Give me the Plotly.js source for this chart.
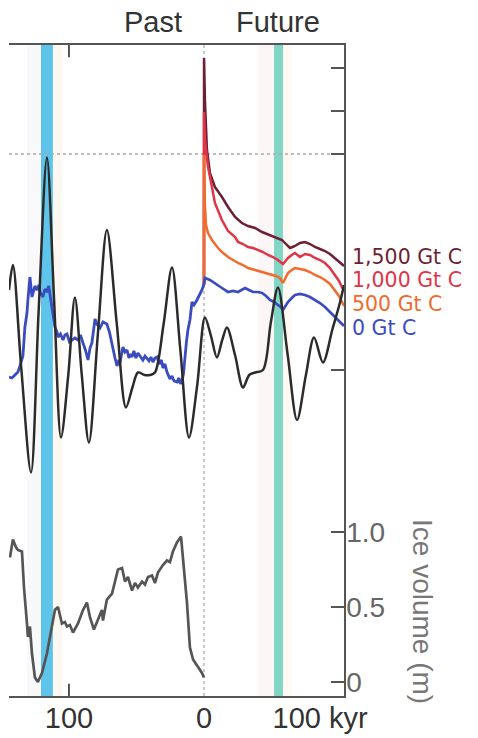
<!DOCTYPE html>
<html><head><meta charset="utf-8">
<script src="https://cdn.plot.ly/plotly-3.0.1.min.js"></script>
<style>html,body{margin:0;padding:0;background:#fff;}#chart{width:478px;height:738px;}</style>
</head><body><div id="chart"></div>
<script>
// ---- Data (time in kyr: negative = past, positive = future) ----
// Summer insolation (W/m2)
const insT = [-144.4,-141.5,-135.5,-128.1,-122.5,-116.3,-111.0,-105.9,-100.5,-95.6,-90.5,-85.2,-78.5,-71.9,-64.5,-57.8,-53.0,-48.9,-44.0,-40.0,-36.3,-30.0,-23.7,-17.5,-11.1,-5.0,0.7,5.0,9.6,13.5,17.0,23.0,28.9,33.5,37.8,43.7,49.5,54.8,62.0,68.9,75.5,81.5,88.1,95.0,100.7,103.7];
const insW = [504,514,474,431,495,557,500,445,470,501,470,443,487,528,490,457,465,471,470,470,471,490,513,480,445,466,493,486,477,484,489,478,465,470,471,472,491,505,478,452,470,485,475,488,499,506];

// Atmospheric CO2, past (ppm)
const co2PastT = [-144.4,-142.2,-140.0,-137.8,-136.3,-134.1,-132.6,-131.1,-130.4,-128.9,-127.4,-126.7,-125.2,-123.7,-122.2,-121.5,-119.3,-117.8,-116.3,-115.0,-114.1,-112.6,-111.5,-110.4,-108.9,-108.1,-106.3,-104.4,-103.0,-101.5,-99.6,-97.8,-95.6,-93.3,-91.5,-89.6,-87.8,-85.9,-84.4,-83.0,-81.9,-80.7,-79.3,-77.0,-74.8,-71.9,-70.0,-68.1,-65.9,-64.4,-63.0,-62.2,-61.1,-60.0,-58.5,-57.0,-55.6,-54.4,-53.3,-51.9,-50.4,-48.9,-47.4,-45.2,-43.7,-42.2,-40.7,-39.3,-37.8,-36.3,-34.8,-33.0,-31.5,-30.4,-28.9,-27.4,-26.3,-25.2,-23.7,-22.2,-20.0,-18.5,-17.4,-16.3,-15.2,-14.1,-13.0,-11.9,-10.4,-8.9,-7.4,-5.2,-4.1,-3.0,-1.5,0];
const co2PastV = [193,192,195,198,204,214,243,257,270,293,273,277,284,280,285,278,273,281,278,284,276,267,255,243,238,233,236,230,235,236,228,230,232,230,235,227,220,210,222,227,240,251,246,242,248,246,238,225,212,204,210,207,214,223,218,220,212,216,213,219,212,217,214,210,214,212,209,213,208,212,213,206,210,202,206,198,195,191,194,189,188,192,186,189,196,215,228,240,250,268,265,270,273,277,280,286];

// Future CO2 scenarios (ppm)
const fut0T = [0,0.7,4.4,8.1,13.3,17.8,21.5,25.2,30.4,33.3,36.3,40.0,43.0,46.0,48.9,51.9,54.8,56.7,58.5,60.4,62.2,65.0,67.4,71.1,74.8,78.5,82.2,85.9,89.6,92.6,95.6,98.5,100.7,103.7];
const fut0V = [286,292,290,287,282,278,279,278,282,280,278,278,277,274,270,268,265,263,260,264,268,272,275,276,275,273,270,267,263,259,255,251,248,244];

const fut500T = [0,0.05,0.7,1.5,3.0,5.9,10.4,13.3,17.8,21.5,25.2,28.9,32.6,37.8,43.0,46.7,50.4,53.3,56.3,57.4,58.5,60.4,62.2,65.0,67.4,71.1,74.8,78.5,82.2,85.9,89.6,93.3,97.0,100.0,102.2,103.7];
const fut500V = [286,415,365,345,337,330,322,318,313,310,307,305,302,300,298,296,295,294,292,290,287,292,297,300,302,301,300,298,295,293,290,286,280,274,268,264];

const fut1000T = [0,0.05,0.7,2.2,3.0,5.9,8.1,13.3,17.8,23.0,25.2,28.9,32.6,36.3,40.0,43.7,47.4,51.1,54.8,56.7,58.5,60.4,62.2,65.0,67.4,71.1,74.8,78.5,82.2,85.9,89.6,93.3,97.0,100.0,102.2,103.7];
const fut1000V = [285,458,430,410,403,383,367,350,339,333,328,326,323,322,320,318,315,313,310,308,306,309,312,315,317,313,316,315,312,310,307,302,295,289,283,280];

const fut1500T = [0,0.05,0.7,1.5,2.2,4.4,8.1,13.3,17.8,23.0,28.1,32.6,37.8,43.0,46.7,50.4,54.1,57.8,60.7,63.7,65.6,67.4,71.1,74.8,78.5,82.2,85.9,89.6,93.3,97.0,100.0,102.2,103.7];
const fut1500V = [285,512,470,440,420,397,383,373,363,353,347,344,342,338,336,334,332,330,326,322,323,324,327,328,326,323,321,319,316,312,308,306,304];

// Ice volume (m)
const iceT = [-143.7,-141.5,-139.3,-137.8,-134.8,-133.3,-131.1,-130.4,-128.9,-127.4,-125.2,-123.0,-121.5,-120.0,-116.3,-112.6,-110.4,-108.1,-105.2,-103.0,-101.5,-99.3,-97.0,-93.3,-89.6,-86.7,-84.4,-81.5,-78.5,-75.6,-74.8,-71.9,-68.1,-65.9,-63.7,-60.7,-58.5,-56.3,-53.3,-51.1,-48.9,-45.9,-43.7,-41.5,-38.5,-36.3,-34.1,-30.4,-27.4,-25.2,-23.0,-20.0,-17.0,-15.6,-12.6,-10.4,-8.1,-4.4,-1.5,0];
const iceV = [0.83,0.95,0.90,0.88,0.87,0.63,0.39,0.30,0.37,0.19,0.03,0.0,0.03,0.06,0.19,0.37,0.48,0.50,0.39,0.40,0.37,0.38,0.33,0.39,0.48,0.53,0.43,0.35,0.41,0.48,0.41,0.55,0.59,0.68,0.75,0.76,0.67,0.70,0.61,0.66,0.63,0.67,0.65,0.70,0.71,0.66,0.73,0.78,0.81,0.80,0.87,0.93,0.97,0.83,0.53,0.23,0.15,0.10,0.06,0.03];

// Highlighted periods (kyr)
const bandStart = [-120.7, 51.9];
const bandEnd = [-111.9, 58.5];
const bandColor = ['#5ec4ea', '#80d5c5'];
const faintStart = [-131.0, -111.9, 40.0, 58.5];
const faintEnd = [-120.7, -105.0, 51.9, 65.0];
const faintColor = ['#f9f9fc', '#fef8f2', '#fcf6f6', '#fef9f3'];

// Axis ticks / labels
const xTickVals = [-100, 0, 86];
const xTickText = ['100', '0', '100 kyr'];
const iceTickVals = [0, 0.5, 1.0];
const iceTickText = ['0', '0.5', '1.0'];
const co2TickVals = [200, 416, 459, 502];
const scenarioNames = ['1,500 Gt C', '1,000 Gt C', '500 Gt C', '0 Gt C'];
const scenarioColors = ['#6e1f33', '#e03448', '#f26a2c', '#3b4cc0'];

// ---- Plot ----
const FONT = 'Liberation Sans, Arial, Helvetica, sans-serif';
const traces = [
  {x: insT, y: insW, yaxis: 'y3', mode: 'lines', line: {color: '#2b2b2b', width: 2.5, shape: 'spline', smoothing: 0.9}, hoverinfo: 'skip'},
  {x: iceT, y: iceV, yaxis: 'y', mode: 'lines', line: {color: '#555555', width: 2.7}, hoverinfo: 'skip'},
  {x: fut1500T, y: fut1500V, yaxis: 'y2', mode: 'lines', line: {color: scenarioColors[0], width: 2.5}, hoverinfo: 'skip'},
  {x: fut1000T, y: fut1000V, yaxis: 'y2', mode: 'lines', line: {color: scenarioColors[1], width: 2.5}, hoverinfo: 'skip'},
  {x: fut500T, y: fut500V, yaxis: 'y2', mode: 'lines', line: {color: scenarioColors[2], width: 2.5}, hoverinfo: 'skip'},
  {x: fut0T, y: fut0V, yaxis: 'y2', mode: 'lines', line: {color: scenarioColors[3], width: 2.7}, hoverinfo: 'skip'},
  {x: co2PastT, y: co2PastV, yaxis: 'y2', mode: 'lines', line: {color: '#3b4cc0', width: 2.8}, hoverinfo: 'skip'}
];

const shapes = [];
for (let i = 0; i < faintStart.length; i++) {
  shapes.push({type: 'rect', xref: 'x', yref: 'paper', x0: faintStart[i], x1: faintEnd[i], y0: 0, y1: 1, fillcolor: faintColor[i], line: {width: 0}, layer: 'below'});
}
for (let i = 0; i < bandStart.length; i++) {
  shapes.push({type: 'rect', xref: 'x', yref: 'paper', x0: bandStart[i], x1: bandEnd[i], y0: 0, y1: 1, fillcolor: bandColor[i], line: {width: 0}, layer: 'below'});
}
// dotted reference lines
shapes.push({type: 'line', xref: 'paper', yref: 'y2', x0: 0, x1: 1, y0: 416, y1: 416, line: {color: '#aaaaaa', width: 1.5, dash: 'dot'}, layer: 'below'});
shapes.push({type: 'line', xref: 'x', yref: 'paper', x0: 0, x1: 0, y0: 0, y1: 1, line: {color: '#aaaaaa', width: 1.2, dash: 'dot'}, layer: 'below'});
// tick marks at 100 kyr BP (bottom and top)
shapes.push({type: 'line', xref: 'x', yref: 'paper', x0: -100, x1: -100, y0: 0, y1: 0.019, line: {color: '#444', width: 1.8}});
shapes.push({type: 'line', xref: 'x', yref: 'paper', x0: -100, x1: -100, y0: 1, y1: 0.981, line: {color: '#444', width: 1.8}});

const annotations = [
  {text: 'Past', xref: 'paper', yref: 'paper', x: (153 - 9) / 335, y: 1, yshift: 23, showarrow: false, font: {family: FONT, size: 29, color: '#333'}, xanchor: 'center', yanchor: 'middle'},
  {text: 'Future', xref: 'paper', yref: 'paper', x: (278 - 9) / 335, y: 1, yshift: 23, showarrow: false, font: {family: FONT, size: 29, color: '#333'}, xanchor: 'center', yanchor: 'middle'},
  {text: 'Ice volume (m)', xref: 'paper', yref: 'paper', x: 1, xshift: 79, y: (696 - 611) / 651, showarrow: false, textangle: 90, font: {family: FONT, size: 28, color: '#777'}, xanchor: 'center', yanchor: 'middle'}
];
const labelY = [257, 280, 304, 328];
for (let i = 0; i < scenarioNames.length; i++) {
  annotations.push({text: scenarioNames[i], xref: 'paper', yref: 'paper', x: 1, xshift: 6, y: (696 - labelY[i]) / 651, showarrow: false, xanchor: 'left', yanchor: 'middle',
                    font: {family: 'DejaVu Sans, Liberation Sans, sans-serif', size: 20.5, color: scenarioColors[i]}});
}

const layout = {
  width: 478, height: 738,
  margin: {l: 9, r: 134, t: 45, b: 42, pad: 0},
  paper_bgcolor: '#ffffff', plot_bgcolor: '#ffffff',
  showlegend: false,
  xaxis: {range: [-144.4, 103.7], tickvals: xTickVals, ticktext: xTickText, ticks: '', showgrid: false, zeroline: false,
          showline: true, mirror: true, linecolor: '#555', linewidth: 1.6, tickfont: {family: FONT, size: 29, color: '#333'},
          ticklabelstandoff: -4, fixedrange: true},
  yaxis: {range: [-0.0933, 4.2467], side: 'right', tickvals: iceTickVals, ticktext: iceTickText, ticks: 'inside', ticklen: 13, tickwidth: 1.6, tickcolor: '#555',
          showgrid: false, zeroline: false, showline: true, linecolor: '#555', linewidth: 1.6, tickfont: {family: FONT, size: 28, color: '#666'},
          ticklabelstandoff: -5, fixedrange: true},
  yaxis2: {range: [-126, 525], overlaying: 'y', side: 'right', tickvals: co2TickVals, ticks: 'inside', ticklen: 13, tickwidth: 1.6, tickcolor: '#555',
           showticklabels: false, showgrid: false, zeroline: false, showline: false, fixedrange: true},
  yaxis3: {range: [341.6, 602], overlaying: 'y', visible: false, fixedrange: true},
  shapes: shapes,
  annotations: annotations
};
Plotly.newPlot('chart', traces, layout, {staticPlot: true, displayModeBar: false});
</script>
</body></html>
